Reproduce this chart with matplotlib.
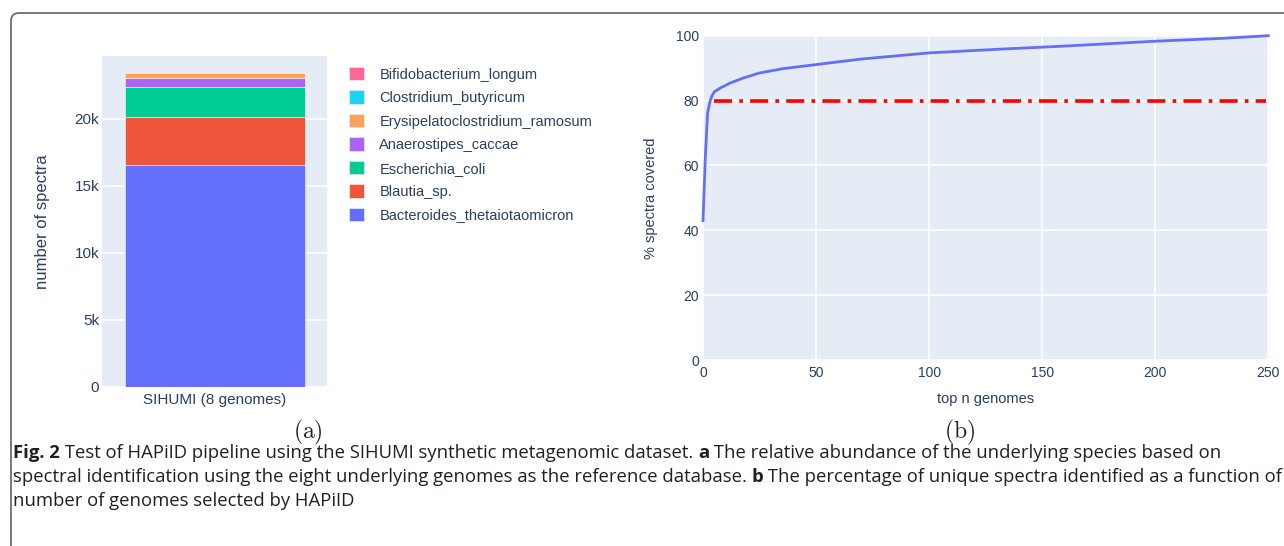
import matplotlib
matplotlib.use("Agg")
import matplotlib.pyplot as plt
from matplotlib.patches import FancyBboxPatch
from matplotlib.ticker import FuncFormatter, MultipleLocator
import numpy as np

# ---------------- data ----------------
sample_label = "SIHUMI (8 genomes)"
species = ["Bacteroides_thetaiotaomicron", "Blautia_sp.", "Escherichia_coli",
           "Anaerostipes_caccae", "Erysipelatoclostridium_ramosum",
           "Clostridium_butyricum", "Bifidobacterium_longum"]
spectra_counts = [16540, 3570, 2220, 725, 350, 20, 10]
species_colors = ["#636EFA", "#EF553B", "#00CC96", "#AB63FA", "#FFA15A", "#19D3F3", "#FF6692"]

top_n = [0, 1, 2, 3, 4, 5, 8, 12, 18, 25, 35, 50, 70, 100, 130, 160, 200, 230, 250]
pct_covered = [43.0, 62.0, 76.0, 79.5, 81.5, 82.7, 84.0, 85.4, 87.0, 88.5, 89.8, 91.1,
               92.8, 94.7, 95.8, 96.8, 98.3, 99.2, 100.0]
threshold = 80
threshold_x = [5, 249]

caption_lines = [
    [("Fig. 2", True), (" Test of HAPiID pipeline using the SIHUMI synthetic metagenomic dataset. ", False),
     ("a", True), (" The relative abundance of the underlying species based on", False)],
    [("spectral identification using the eight underlying genomes as the reference database. ", False),
     ("b", True), (" The percentage of unique spectra identified as a function of", False)],
    [("number of genomes selected by HAPiID", False)],
]

# ---------------- style ----------------
W, H = 1284, 546
DPI = 100
BG = "#E5ECF6"
TXT = "#2a3f5f"
plt.rcParams["font.family"] = ["Liberation Sans", "DejaVu Sans"]
plt.rcParams["mathtext.fontset"] = "cm"

fig = plt.figure(figsize=(W / DPI, H / DPI), dpi=DPI)
fig.patch.set_facecolor("white")

def px_axes(x0, y0, x1, y1):
    return fig.add_axes([x0 / W, 1 - y1 / H, (x1 - x0) / W, (y1 - y0) / H])

def plotly_style(ax, size):
    ax.set_facecolor(BG)
    for s in ax.spines.values():
        s.set_visible(False)
    ax.tick_params(length=0, colors=TXT, labelsize=size)
    ax.set_axisbelow(True)

# ---------------- panel (a) ----------------
axa = px_axes(102, 56, 327, 387)
plotly_style(axa, 11)
bottom = 0
for name, val, col in zip(species, spectra_counts, species_colors):
    axa.bar([sample_label], [val], bottom=bottom, width=0.8, color=col,
            edgecolor=BG, linewidth=0.5, label=name)
    bottom += val
total = sum(spectra_counts)
axa.set_xlim(-0.5, 0.5)
axa.set_ylim(0, total * 1.053)
axa.yaxis.set_major_locator(MultipleLocator(5000))
axa.yaxis.set_major_formatter(FuncFormatter(lambda v, p: "0" if v == 0 else f"{int(v/1000)}k"))
axa.grid(axis="y", color="white", linewidth=1.2)
axa.tick_params(axis="y", pad=2)
axa.tick_params(axis="x", pad=4)
axa.set_ylabel("number of spectra", color=TXT, fontsize=12, labelpad=18)

handles, labels = axa.get_legend_handles_labels()
leg = axa.legend(handles[::-1], labels[::-1], loc="upper left", bbox_to_anchor=(343 / W, 1 - 61 / H),
                 bbox_transform=fig.transFigure, frameon=False, fontsize=10.5,
                 handlelength=1.05, handleheight=1.05, handletextpad=1.05, labelspacing=0.6,
                 borderaxespad=0)
for t in leg.get_texts():
    t.set_color(TXT)

# ---------------- panel (b) ----------------
axb = px_axes(703, 35.7, 1269, 360)
plotly_style(axb, 10)
axb.plot(top_n, pct_covered, color="#636EFA", linewidth=2, clip_on=False, zorder=3)
axb.plot(threshold_x, [threshold, threshold], color="#FF0000", linewidth=2.6,
         linestyle=(0, (5, 2, 1, 2)), zorder=2)
axb.set_xlim(0, 250.3)
axb.set_ylim(0, 100)
axb.xaxis.set_major_locator(MultipleLocator(50))
axb.yaxis.set_major_locator(MultipleLocator(20))
axb.grid(color="white", linewidth=1.2)
axb.tick_params(axis="y", pad=3)
axb.tick_params(axis="x", pad=4)
axb.set_xlabel("top n genomes", color=TXT, fontsize=10.5, labelpad=9)
axb.set_ylabel("% spectra covered", color=TXT, fontsize=10.5, labelpad=13)

# subfigure labels
fig.text(308 / W, 1 - 432 / H, r"$\mathrm{(a)}$", ha="center", va="center", fontsize=17, color="#222222")
fig.text(960 / W, 1 - 432 / H, r"$\mathrm{(b)}$", ha="center", va="center", fontsize=17, color="#222222")

# ---------------- caption ----------------
cap_family = ["Open Sans", "DejaVu Sans"]
renderer = fig.canvas.get_renderer()

def line_width(pieces, size):
    w = 0
    for s, b in pieces:
        t = fig.text(0, 0, s, fontsize=size, family=cap_family, fontweight="bold" if b else "normal")
        w += t.get_window_extent(renderer).width
        t.remove()
    return w

base = 12.0
target = 1278 - 13
size = 0.997 * base * target / line_width(caption_lines[1], base)

def draw_line(pieces, x0, yb, size):
    x = x0
    for s, b in pieces:
        t = fig.text(x / W, 1 - yb / H, s, fontsize=size, family=cap_family,
                     fontweight="bold" if b else "normal", color="#231f20", va="baseline", ha="left")
        x += t.get_window_extent(renderer).width

for i, pieces in enumerate(caption_lines):
    draw_line(pieces, 13, 458 + 24 * i, size)

# frame around figure (only top/left visible)
frame = FancyBboxPatch((0.11, -1.0), 14.0, (H - 13) / DPI + 1.0,
                       boxstyle="round,pad=0,rounding_size=0.08",
                       transform=fig.dpi_scale_trans, facecolor="none",
                       edgecolor="#6e6e6e", linewidth=1.3, clip_on=False)
fig.patches.append(frame)

fig.savefig("out.png", dpi=DPI)
